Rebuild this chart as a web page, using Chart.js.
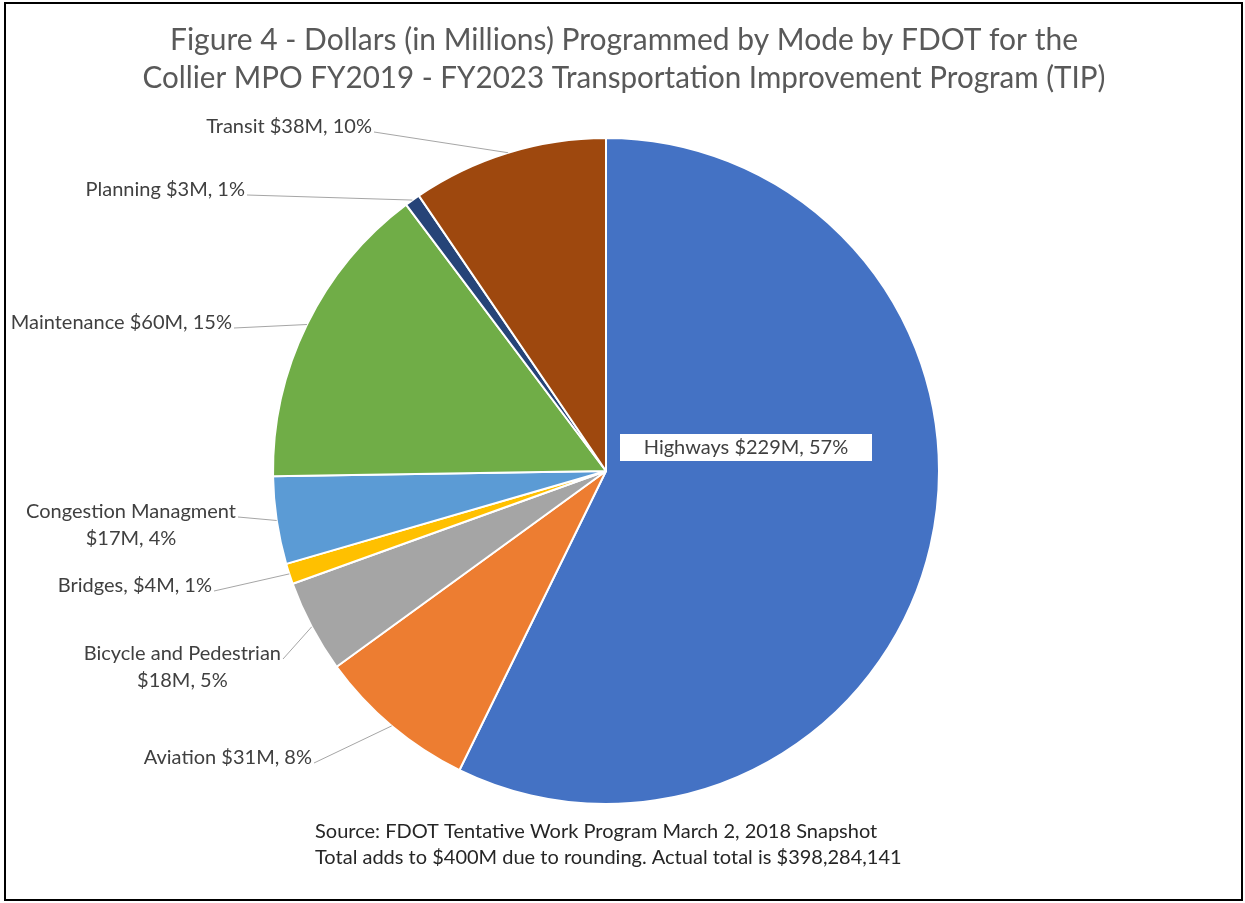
<!DOCTYPE html>
<html>
<head>
<meta charset="utf-8">
<script src="https://cdn.jsdelivr.net/npm/chart.js@4.4.1/dist/chart.umd.min.js"></script>
<style>
  html, body { margin: 0; padding: 0; background: #fff; }
  canvas { display: block; }
</style>
</head>
<body>
<canvas id="tipChart" width="1245" height="903"></canvas>
<script>
// Dados do gráfico
const modes = ['Highways', 'Aviation', 'Bicycle and Pedestrian', 'Bridges', 'Congestion Managment', 'Maintenance', 'Planning', 'Transit'];
const dollars = [229, 31, 18, 4, 17, 60, 3, 38];
const labelLines = [
    ['Highways $229M, 57%'],
    ['Aviation $31M, 8%'],
    ['Bicycle and Pedestrian', '$18M, 5%'],
    ['Bridges, $4M, 1%'],
    ['Congestion Managment', '$17M, 4%'],
    ['Maintenance $60M, 15%'],
    ['Planning $3M, 1%'],
    ['Transit $38M, 10%']
];
const sliceColors = ['#4472C4', '#ED7D31', '#A5A5A5', '#FFC000', '#5B9BD5', '#70AD47', '#264478', '#9E480E'];
const titleLines = [
    'Figure 4 - Dollars (in Millions) Programmed by Mode by FDOT for the',
    'Collier MPO FY2019 - FY2023 Transportation Improvement Program (TIP)'
];
const noteLines = [
    'Source: FDOT Tentative Work Program March 2, 2018 Snapshot',
    'Total adds to $400M due to rounding. Actual total is $398,284,141'
];

// Posição dos rótulos (borda direita do texto, centro da primeira linha)
const labelAnchors = [
    null,
    { x: 312, y: 758 },
    { x: 281, y: 654 },
    { x: 212, y: 586 },
    { x: 236, y: 512 },
    { x: 232, y: 323 },
    { x: 245, y: 190 },
    { x: 372, y: 127 }
];

const FONT = 'Lato, "Open Sans", sans-serif';

const decorPlugin = {
    id: 'decor',
    beforeDraw(chart) {
        const ctx = chart.ctx;
        ctx.save();
        ctx.fillStyle = '#fff';
        ctx.fillRect(0, 0, chart.width, chart.height);
        ctx.restore();
    },
    afterDraw(chart) {
        const ctx = chart.ctx;
        const arcs = chart.getDatasetMeta(0).data;
        ctx.save();

        // Título
        ctx.fillStyle = '#595959';
        ctx.textAlign = 'center';
        ctx.textBaseline = 'middle';
        ctx.font = '30px ' + FONT;
        ctx.fillText(titleLines[0], 624, 40, 908);
        ctx.fillText(titleLines[1], 624, 78, 963);

        // Rótulos com linhas de chamada
        ctx.font = '20px ' + FONT;
        arcs.forEach((arc, i) => {
            const a = labelAnchors[i];
            if (!a) return;
            const mid = (arc.startAngle + arc.endAngle) / 2;
            const ex = arc.x + Math.cos(mid) * arc.outerRadius;
            const ey = arc.y + Math.sin(mid) * arc.outerRadius;
            const lines = labelLines[i];
            const w = ctx.measureText(lines[0]).width;
            ctx.strokeStyle = '#a6a6a6';
            ctx.lineWidth = 1;
            ctx.beginPath();
            ctx.moveTo(a.x + 2, a.y + 5);
            ctx.lineTo(ex, ey);
            ctx.stroke();
            ctx.fillStyle = '#404040';
            ctx.textAlign = 'center';
            lines.forEach((t, k) => {
                ctx.fillText(t, a.x - w / 2, a.y + k * 27);
            });
        });

        // Rótulo do Highways em caixa branca
        ctx.fillStyle = '#fff';
        ctx.fillRect(620, 434, 252, 27);
        ctx.fillStyle = '#404040';
        ctx.textAlign = 'center';
        ctx.fillText(labelLines[0][0], 746, 448);

        // Nota de rodapé
        ctx.fillStyle = '#262626';
        ctx.textAlign = 'left';
        ctx.font = '20px ' + FONT;
        ctx.fillText(noteLines[0], 315, 832, 563);
        ctx.fillText(noteLines[1], 315, 858, 591);

        // Moldura
        ctx.strokeStyle = '#000';
        ctx.lineWidth = 2;
        ctx.strokeRect(5, 3, 1237, 897);
        ctx.restore();
    }
};

new Chart(document.getElementById('tipChart').getContext('2d'), {
    type: 'pie',
    data: {
        labels: modes,
        datasets: [{
            data: dollars,
            backgroundColor: sliceColors,
            borderColor: '#ffffff',
            borderWidth: 2
        }]
    },
    options: {
        responsive: false,
        animation: false,
        layout: { padding: { left: 272, right: 305, top: 137, bottom: 98 } },
        plugins: {
            legend: { display: false },
            tooltip: { enabled: false },
            title: { display: false }
        }
    },
    plugins: [decorPlugin]
});
</script>
</body>
</html>
